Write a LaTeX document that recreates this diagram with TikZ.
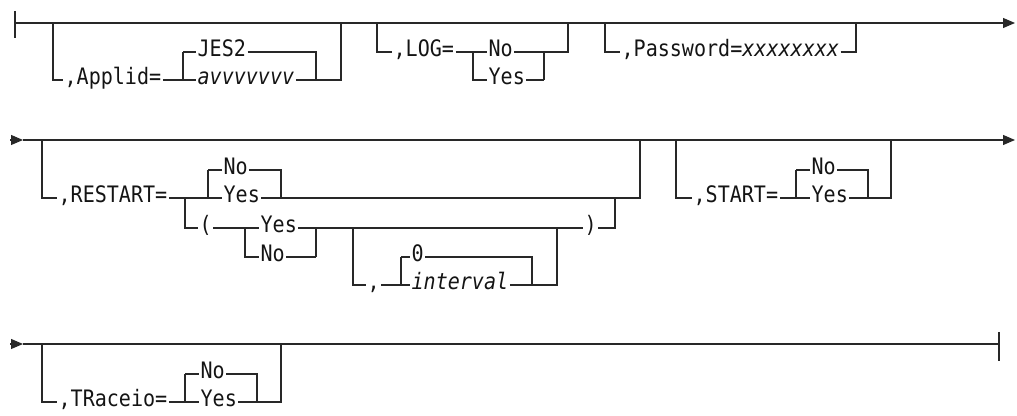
\documentclass[tikz,border=0pt]{standalone}
\usepackage{fontspec}
\setmonofont{DejaVu Sans Mono}[FakeStretch=0.885, ItalicFont={DejaVu Sans Mono Oblique}]
\usepackage{xcolor}
\usepackage{tikz}
\usetikzlibrary{arrows.meta, positioning}
\definecolor{rrLine}{RGB}{40,40,40}
\definecolor{rrText}{RGB}{20,20,20}

\begin{document}
\begin{tikzpicture}[
    x=0.75pt, y=-0.75pt,
    font=\ttfamily\fontsize{17}{20}\selectfont,
    rail/.style={draw=rrLine, line width=0.8pt},
    tipr/.style={-{Triangle[length=9pt, width=7.5pt]}},
    lbl/.style={anchor=west, inner sep=1pt, text height=0.73em,
                text depth=0pt, text=rrText}
]
\useasboundingbox (0,0) rectangle (1017,416);

% Choice stacks (name/left/right/top/bottom/indent/upper/lower)
\foreach \nm/\xl/\xr/\yt/\yb/\dx/\ta/\tb in {
  jes/183/316/52/80/13/JES2/\textit{avvvvvvv},
  logc/473/544/52/80/14/No/Yes,
  rsc/208/281/170/198/14/No/Yes,
  yn/245/316/228/257/14/Yes/No,
  ivc/401/532/257/285/9/0/\textit{interval},
  stc/796/868/170/198/14/No/Yes,
  trc/185/257/374/402/14/No/Yes}
{
   \coordinate (\nm-lt) at (\xl,\yt);
   \coordinate (\nm-lb) at (\xl,\yb);
   \coordinate (\nm-rt) at (\xr,\yt);
   \coordinate (\nm-rb) at (\xr,\yb);
   \node[lbl] (\nm-a) at (\xl+\dx,\yt) {\ta};
   \node[lbl] (\nm-b) at (\xl+\dx,\yb) {\tb};
   \draw[rail] (\nm-lt) -- (\nm-a.west) (\nm-a.east) -- (\nm-rt) -- (\nm-rb);
   \draw[rail] (\nm-lt) -- (\nm-lb) -- (\nm-b.west) (\nm-b.east) -- (\nm-rb);
}

% Row 1
\coordinate (r1s) at (15,23);
\coordinate (r1e) at (1015,23);
\draw[rail] (r1s) ++(0,-12) -- ++(0,27);
\draw[rail, tipr] (r1s) -- (r1e);
\draw[rail, line width=1.3pt] (r1s) ++(5,0) -- ++(10,0);
\coordinate (app-d) at (53,23);
\coordinate (app-u) at (341,23);
\node[lbl] (app) at (63,80) {,Applid=};
\draw[rail] (app-d) |- (app.west);
\draw[rail] (app.east) -- (jes-lb);
\draw[rail] (jes-rb) -| (app-u);
\coordinate (log-d) at (377,23);
\coordinate (log-u) at (568,23);
\node[lbl] (log) at (392,52) {,LOG=};
\draw[rail] (log-d) |- (log.west);
\draw[rail] (log.east) -- (logc-lt);
\draw[rail] (logc-rt) -| (log-u);
\coordinate (pw-d) at (605,23);
\coordinate (pw-u) at (856,23);
\node[lbl] (pw) at (620,52) {,Password=\textit{xxxxxxxx}};
\draw[rail] (pw-d) |- (pw.west);
\draw[rail] (pw.east) -| (pw-u);

% Row 2
\coordinate (r2s) at (10,140);
\coordinate (r2a) at (23,140);
\coordinate (r2e) at (1015,140);
\draw[rail, tipr] (r2s) -- (r2a);
\draw[rail, tipr] (r2a) -- (r2e);
\coordinate (rs-d) at (42,140);
\coordinate (rs-j) at (185,198);
\coordinate (rs-u) at (640,140);
\node[lbl] (rs) at (57,198) {,RESTART=};
\draw[rail] (rs-d) |- (rs.west);
\draw[rail] (rs.east) -- (rs-j) -- (rsc-lb);
\draw[rail] (rsc-rb) -| (rs-u);
\node[lbl] (lp) at (198,228) {(};
\draw[rail] (rs-j) |- (lp.west);
\draw[rail] (lp.east) -- (yn-lt);
\coordinate (iv-d) at (353,228);
\coordinate (iv-u) at (557,228);
\draw[rail] (yn-rt) -- (iv-d) -- (iv-u);
\node[lbl] (cm) at (366,285) {,};
\draw[rail] (iv-d) |- (cm.west);
\draw[rail] (cm.east) -- (ivc-lb);
\draw[rail] (ivc-rb) -| (iv-u);
\node[lbl] (rp) at (583,228) {)};
\coordinate (rp-u) at (615,198);
\draw[rail] (iv-u) -- (rp.west);
\draw[rail] (rp.east) -| (rp-u);
\coordinate (st-d) at (676,140);
\coordinate (st-u) at (891,140);
\node[lbl] (st) at (692,198) {,START=};
\draw[rail] (st-d) |- (st.west);
\draw[rail] (st.east) -- (stc-lb);
\draw[rail] (stc-rb) -| (st-u);

% Row 3
\coordinate (r3s) at (10,344);
\coordinate (r3a) at (23,344);
\coordinate (r3e) at (999,344);
\draw[rail, tipr] (r3s) -- (r3a);
\draw[rail] (r3a) -- (r3e);
\draw[rail] (r3e) ++(0,-12) -- ++(0,29);
\coordinate (tr-d) at (42,344);
\coordinate (tr-u) at (281,344);
\node[lbl] (tr) at (57,402) {,TRaceio=};
\draw[rail] (tr-d) |- (tr.west);
\draw[rail] (tr.east) -- (trc-lb);
\draw[rail] (trc-rb) -| (tr-u);
\draw[rail, line width=1.3pt] (tr-u) ++(6,0) -- ++(23,0);
\end{tikzpicture}
\end{document}
